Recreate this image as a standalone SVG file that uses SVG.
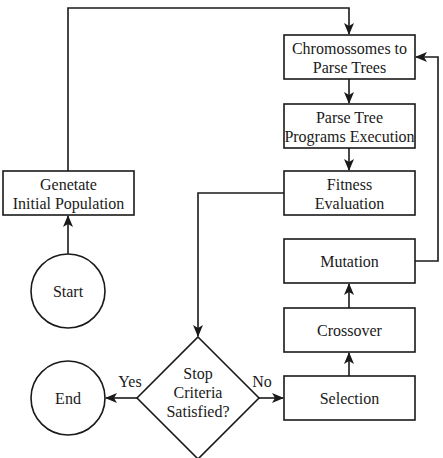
<svg xmlns="http://www.w3.org/2000/svg" width="443" height="458" viewBox="0 0 443 458">
<style>
.box{fill:#fff;stroke:#1a1a1a;stroke-width:1.6}
.ln{fill:none;stroke:#1a1a1a;stroke-width:1.6}
.t{font-family:'Liberation Serif','Times New Roman',Tinos,'DejaVu Serif',serif;font-size:16px;fill:#1a1a1a;text-anchor:middle}
</style>
<defs>
<marker id="ah" viewBox="0 0 12 10" refX="11" refY="5" markerWidth="12" markerHeight="10" markerUnits="userSpaceOnUse" orient="auto">
<path d="M0,0 L12,5 L0,10 L3,5 Z" fill="#1a1a1a"/>
</marker>
</defs>
<rect width="443" height="458" fill="#fff"/>
<g id="connectors">
<path class="ln" d="M68,171 V8 H349 V34" marker-end="url(#ah)"/>
<path class="ln" d="M349,79 V103" marker-end="url(#ah)"/>
<path class="ln" d="M349,148 V170" marker-end="url(#ah)"/>
<path class="ln" d="M284,193 H198 V336" marker-end="url(#ah)"/>
<path class="ln" d="M68,254 V216" marker-end="url(#ah)"/>
<path class="ln" d="M137,398 H106" marker-end="url(#ah)"/>
<path class="ln" d="M258,398 H283" marker-end="url(#ah)"/>
<path class="ln" d="M349,376 V353" marker-end="url(#ah)"/>
<path class="ln" d="M349,308 V284" marker-end="url(#ah)"/>
<path class="ln" d="M415,261 H438 V57 H416" marker-end="url(#ah)"/>
<text class="t" font-family="Liberation Serif" x="130" y="387">Yes</text>
<text class="t" font-family="Liberation Serif" x="262" y="387">No</text>
</g>
<g id="chromosomes">
<rect class="box" x="284" y="35" width="131" height="44"/>
<text class="t" x="349.5" y="54">Chromossomes to</text>
<text class="t" x="349.5" y="73">Parse Trees</text>
</g>
<g id="execution">
<rect class="box" x="284" y="104" width="131" height="44"/>
<text class="t" x="349.5" y="123">Parse Tree</text>
<text class="t" x="349.5" y="142">Programs Execution</text>
</g>
<g id="fitness">
<rect class="box" x="284" y="171" width="131" height="44"/>
<text class="t" x="349.5" y="190">Fitness</text>
<text class="t" x="349.5" y="209">Evaluation</text>
</g>
<g id="generate">
<rect class="box" x="3" y="171" width="131" height="44"/>
<text class="t" x="68.5" y="190">Genetate</text>
<text class="t" x="68.5" y="209">Initial Population</text>
</g>
<g id="start">
<circle class="box" cx="68" cy="291" r="37"/>
<text class="t" x="68" y="297">Start</text>
</g>
<g id="mutation">
<rect class="box" x="284" y="239" width="131" height="44"/>
<text class="t" x="349.5" y="267">Mutation</text>
</g>
<g id="crossover">
<rect class="box" x="284" y="308" width="131" height="44"/>
<text class="t" x="349.5" y="336">Crossover</text>
</g>
<g id="selection">
<rect class="box" x="284" y="376" width="131" height="44"/>
<text class="t" x="349.5" y="404">Selection</text>
</g>
<g id="end">
<circle class="box" cx="68" cy="398" r="37"/>
<text class="t" x="68" y="404">End</text>
</g>
<g id="decision">
<polygon class="box" points="198,337 259,398 198,459 137,398"/>
<text class="t" x="198" y="379">Stop</text>
<text class="t" x="198" y="398">Criteria</text>
<text class="t" x="198" y="417">Satisfied?</text>
</g>
</svg>
